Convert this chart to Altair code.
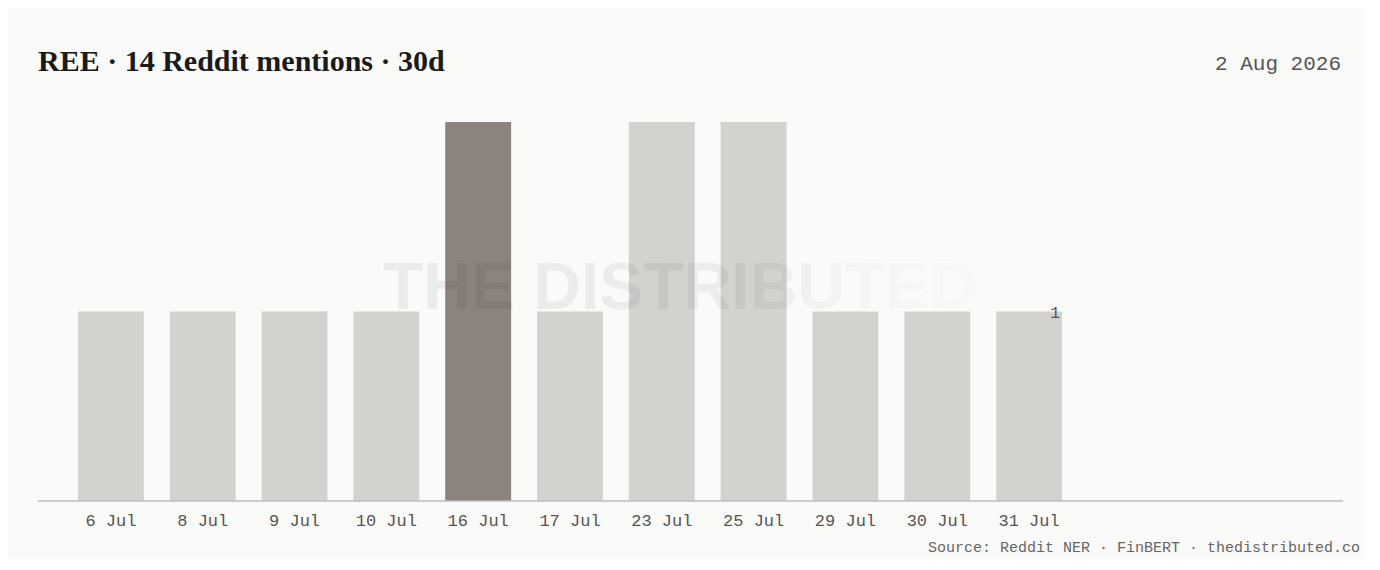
import altair as alt
import pandas as pd

# ---- data ----
dates = ["6 Jul", "8 Jul", "9 Jul", "10 Jul", "16 Jul", "17 Jul",
         "23 Jul", "25 Jul", "29 Jul", "30 Jul", "31 Jul"]
mentions = [1, 1, 1, 1, 2, 1, 2, 2, 1, 1, 1]
highlight_date = "16 Jul"
last_label_date = "31 Jul"

title_text = "REE · 14 Reddit mentions · 30d"
date_text = "2 Aug 2026"
source_text = "Source: Reddit NER · FinBERT · thedistributed.co"
watermark_text = "THE DISTRIBUTED"

BG = "#fafaf9"
LIGHT = "#d3d2cf"
DARK = "#8a847c"
MONO = "Liberation Mono"

df = pd.DataFrame({"date": dates, "n": mentions})
df["hl"] = df["date"] == highlight_date

W, H = 1305, 379

xscale = alt.Scale(domain=dates, range=[27, 1037],
                   paddingInner=0.2826, paddingOuter=0.1413)
yscale = alt.Scale(domain=[0, 2], nice=False)

base = alt.Chart(df)

bars = base.mark_bar().encode(
    x=alt.X("date:N", scale=xscale, sort=dates,
            axis=alt.Axis(title=None, labelAngle=0, ticks=False, domain=False,
                          labelFont=MONO, labelFontSize=17, labelColor="#555",
                          labelPadding=11)),
    y=alt.Y("n:Q", scale=yscale, axis=None),
    color=alt.condition(alt.datum.hl, alt.value(DARK), alt.value(LIGHT)),
)

baseline = alt.Chart(pd.DataFrame({"z": [0]})).mark_rule(
    color="#bdbdbb", strokeWidth=1.3
).encode(x=alt.value(0), x2=alt.value(W), y=alt.Y("z:Q", scale=yscale, axis=None))

label = base.transform_filter(alt.datum.date == last_label_date).mark_text(
    font=MONO, fontSize=17, color="#555", align="right", baseline="middle",
    dx=31, dy=1
).encode(
    x=alt.X("date:N", scale=xscale, sort=dates),
    y=alt.Y("n:Q", scale=yscale),
    text=alt.Text("n:Q"),
)

watermark = alt.Chart(pd.DataFrame({"t": [watermark_text]})).mark_text(
    font="Liberation Sans", fontWeight="bold", fontSize=66,
    align="center", baseline="alphabetic",
    fill=alt.Gradient(
        gradient="linear", x1=0, x2=1, y1=0, y2=0,
        stops=[
            alt.GradientStop(color="rgba(0,0,0,0.058)", offset=0),
            alt.GradientStop(color="rgba(0,0,0,0.055)", offset=0.6),
            alt.GradientStop(color="rgba(0,0,0,0.022)", offset=0.78),
            alt.GradientStop(color="rgba(0,0,0,0.008)", offset=1),
        ],
    ),
).encode(x=alt.value(642), y=alt.value(187), text="t:N")

title = alt.Chart(pd.DataFrame({"t": [title_text]})).mark_text(
    font="Liberation Serif", fontWeight="bold", fontSize=30, color="#1a1a1a",
    align="left", baseline="alphabetic"
).encode(x=alt.value(0), y=alt.value(-51), text="t:N")

date_lbl = alt.Chart(pd.DataFrame({"t": [date_text]})).mark_text(
    font=MONO, fontSize=21, color="#555", align="right", baseline="alphabetic"
).encode(x=alt.value(1303), y=alt.value(-52), text="t:N")

source = alt.Chart(pd.DataFrame({"t": [source_text]})).mark_text(
    font=MONO, fontSize=15, color="#666", align="right", baseline="alphabetic"
).encode(x=alt.value(1322), y=alt.value(430), text="t:N")

chart = alt.layer(bars, baseline, label, watermark, title, date_lbl, source).properties(
    width=W, height=H,
    background=BG,
    padding={"left": 30, "top": 114, "right": 22, "bottom": 58},
    autosize=alt.AutoSizeParams(type="none"),
).configure_view(stroke=None)

chart.save("out.html", embed_options={"renderer": "svg", "actions": False})
